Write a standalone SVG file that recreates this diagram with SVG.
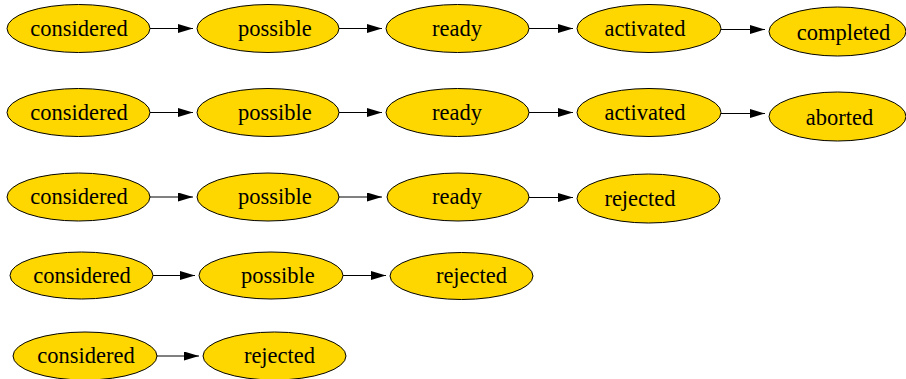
<svg xmlns="http://www.w3.org/2000/svg" width="906" height="379" viewBox="0 0 906 379">
  <style>
    .node ellipse { fill: #ffd700; stroke: #000; stroke-width: 1; }
    .node text { font-size: 22.5px; fill: #000; text-anchor: middle; }
    .edge { stroke: #000; stroke-width: 1; fill: none; marker-end: url(#arrow); }
  </style>
  <defs>
    <marker id="arrow" viewBox="0 0 15 9" refX="15" refY="4.5" markerWidth="15" markerHeight="9" markerUnits="userSpaceOnUse" orient="auto">
      <path d="M0,0 L15,4.5 L0,9 z" fill="#000"/>
    </marker>
  </defs>
  <rect width="906" height="379" fill="#fff"/>

  <g font-family="'Liberation Serif', 'Times New Roman', Times, serif">
  <!-- lifecycle: completed -->
  <g id="r1-considered" class="node"><ellipse cx="78.5" cy="28.5" rx="71.5" ry="24"/><text x="79" y="36">considered</text></g>
  <g id="r1-possible" class="node"><ellipse cx="268" cy="28.5" rx="71" ry="24"/><text x="275" y="36">possible</text></g>
  <g id="r1-ready" class="node"><ellipse cx="457.5" cy="28.5" rx="71.5" ry="24"/><text x="457" y="36">ready</text></g>
  <g id="r1-activated" class="node"><ellipse cx="649" cy="28.5" rx="72" ry="24"/><text x="645" y="36">activated</text></g>
  <g id="r1-completed" class="node"><ellipse cx="837.5" cy="31.5" rx="68.5" ry="24.5"/><text x="843.5" y="40">completed</text></g>

  <!-- lifecycle: aborted -->
  <g id="r2-considered" class="node"><ellipse cx="78.5" cy="112.5" rx="71.5" ry="24"/><text x="79" y="120">considered</text></g>
  <g id="r2-possible" class="node"><ellipse cx="268" cy="112.5" rx="71" ry="24"/><text x="275" y="120">possible</text></g>
  <g id="r2-ready" class="node"><ellipse cx="457.5" cy="112.5" rx="71.5" ry="24"/><text x="457" y="120">ready</text></g>
  <g id="r2-activated" class="node"><ellipse cx="649" cy="112.5" rx="72" ry="24"/><text x="645" y="120">activated</text></g>
  <g id="r2-aborted" class="node"><ellipse cx="837.5" cy="116.5" rx="68.5" ry="24.5"/><text x="839.5" y="125">aborted</text></g>

  <!-- lifecycle: rejected when ready -->
  <g id="r3-considered" class="node"><ellipse cx="78.5" cy="197" rx="71.5" ry="24"/><text x="79" y="204">considered</text></g>
  <g id="r3-possible" class="node"><ellipse cx="268" cy="197" rx="71" ry="24"/><text x="275" y="204">possible</text></g>
  <g id="r3-ready" class="node"><ellipse cx="458" cy="197" rx="71" ry="24"/><text x="457" y="204">ready</text></g>
  <g id="r3-rejected" class="node"><ellipse cx="648.5" cy="198.5" rx="71.5" ry="24.5"/><text x="640" y="205.5">rejected</text></g>

  <!-- lifecycle: rejected when possible -->
  <g id="r4-considered" class="node"><ellipse cx="81.5" cy="275.5" rx="71.5" ry="23.5"/><text x="82" y="282.5">considered</text></g>
  <g id="r4-possible" class="node"><ellipse cx="271" cy="275.5" rx="72" ry="23.5"/><text x="278" y="282.5">possible</text></g>
  <g id="r4-rejected" class="node"><ellipse cx="461.5" cy="276" rx="71.5" ry="23.5"/><text x="471.5" y="283">rejected</text></g>

  <!-- lifecycle: rejected when considered -->
  <g id="r5-considered" class="node"><ellipse cx="85" cy="356" rx="72" ry="24"/><text x="86" y="363.3">considered</text></g>
  <g id="r5-rejected" class="node"><ellipse cx="274.5" cy="356" rx="71.5" ry="24"/><text x="279.5" y="363.3">rejected</text></g>
  </g>

  <g id="connectors">
    <line class="edge" x1="150" y1="28.5" x2="193" y2="28.5"/>
    <line class="edge" x1="339" y1="28.5" x2="382" y2="28.5"/>
    <line class="edge" x1="529" y1="28.5" x2="573" y2="28.5"/>
    <line class="edge" x1="721" y1="29.5" x2="765" y2="29.5"/>

    <line class="edge" x1="150" y1="112.5" x2="193" y2="112.5"/>
    <line class="edge" x1="339" y1="112.5" x2="382" y2="112.5"/>
    <line class="edge" x1="529" y1="112.5" x2="573" y2="112.5"/>
    <line class="edge" x1="721" y1="113.5" x2="765" y2="113.5"/>

    <line class="edge" x1="150" y1="197" x2="193" y2="197"/>
    <line class="edge" x1="339" y1="197" x2="382" y2="197"/>
    <line class="edge" x1="529" y1="197.5" x2="573" y2="197.5"/>

    <line class="edge" x1="153" y1="275.5" x2="195" y2="275.5"/>
    <line class="edge" x1="343" y1="275.5" x2="386" y2="275.5"/>

    <line class="edge" x1="157" y1="356" x2="199" y2="356"/>
  </g>
</svg>
